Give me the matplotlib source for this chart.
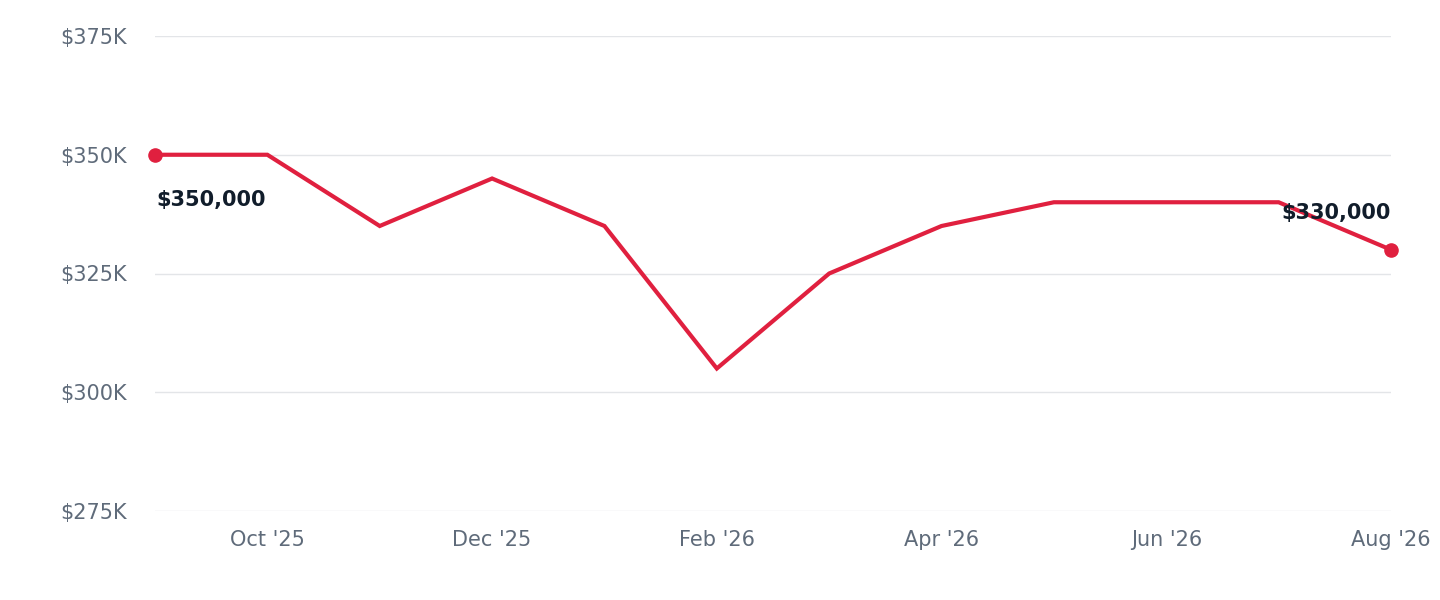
import matplotlib
matplotlib.use("Agg")
import matplotlib.pyplot as plt

months = ["Sep '25","Oct '25","Nov '25","Dec '25","Jan '26","Feb '26","Mar '26","Apr '26","May '26","Jun '26","Jul '26","Aug '26"]
values = [350000,350000,335000,345000,335000,305000,325000,335000,340000,340000,340000,330000]
yticks = [275000,300000,325000,350000,375000]

fig = plt.figure(figsize=(14.4,6), dpi=100)
ax = fig.add_axes([155/1440, 1-511/600, (1391-155)/1440, (511-36)/600])
x = list(range(len(months)))
ax.plot(x, values, color="#e0203f", lw=3, solid_joinstyle="miter", zorder=3)
ax.scatter([x[0], x[-1]], [values[0], values[-1]], color="#e0203f", s=90, zorder=4, clip_on=False)
ax.set_xlim(0, len(months)-1)
ax.set_ylim(275000, 375000)
ax.set_yticks(yticks)
ax.set_yticklabels([f"${v//1000}K" for v in yticks])
ax.set_xticks(x[1::2])
ax.set_xticklabels(months[1::2])
ax.grid(axis="y", color="#e3e5e8", lw=1)
ax.set_axisbelow(True)
for s in ax.spines.values():
    s.set_visible(False)
ax.tick_params(length=0, labelsize=15, colors="#5f6b7a")
ax.tick_params(axis="y", pad=20)
ax.tick_params(axis="x", pad=14)
ax.annotate(f"${values[0]:,}", (x[0], values[0]), xytext=(1, -40), textcoords="offset points",
            ha="left", va="bottom", fontsize=15, fontweight="bold", color="#111d2b")
ax.annotate(f"${values[-1]:,}", (x[-1], values[-1]), xytext=(0, 19), textcoords="offset points",
            ha="right", va="bottom", fontsize=15, fontweight="bold", color="#111d2b")
fig.savefig("out.png", dpi=100)
